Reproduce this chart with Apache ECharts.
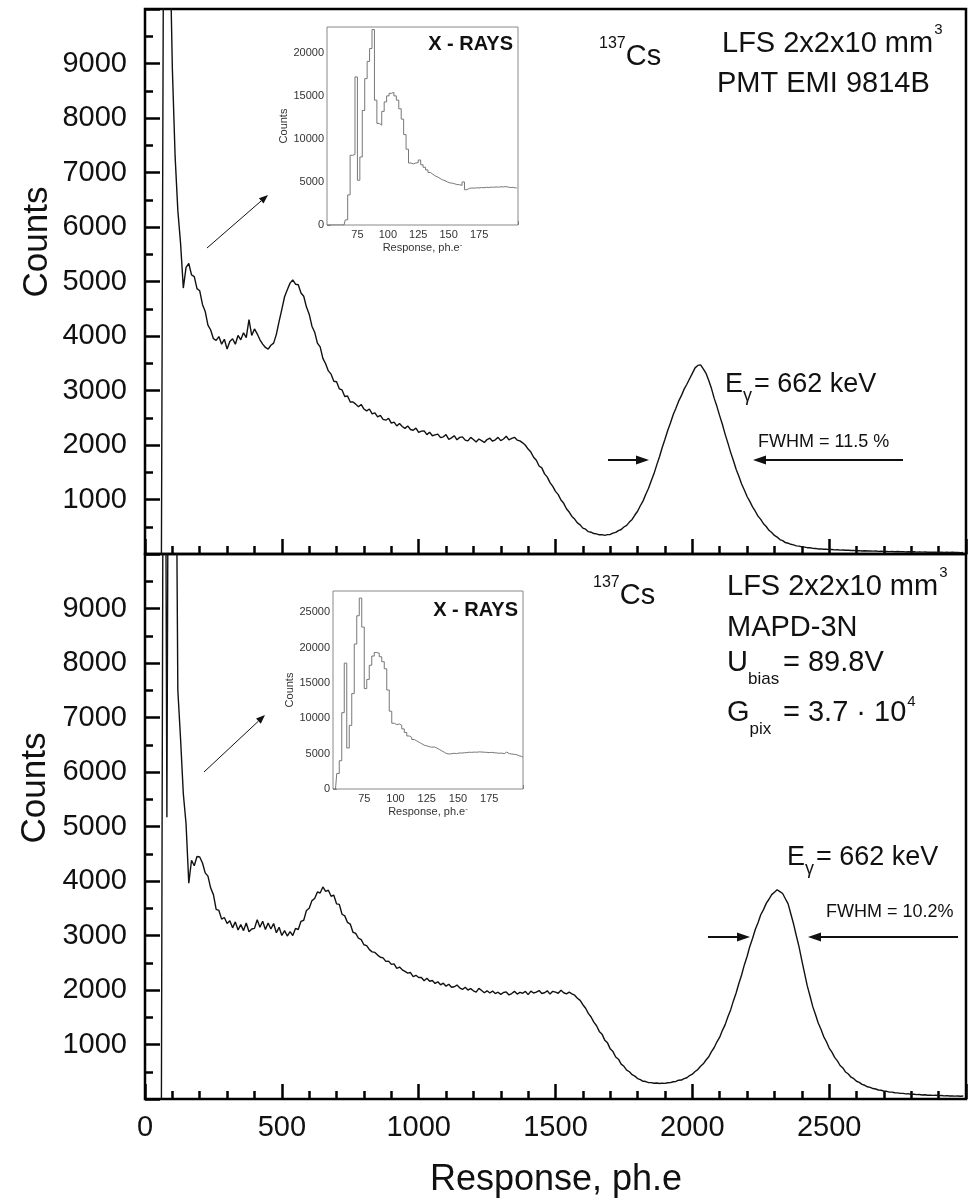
<!DOCTYPE html>
<html>
<head>
<meta charset="utf-8">
<script src="https://cdn.jsdelivr.net/npm/echarts@6/dist/echarts.min.js"></script>
<style>
  html, body { margin: 0; padding: 0; background: #fff; }
  #chart { width: 970px; height: 1204px; }
</style>
</head>
<body>
<div id="chart"></div>
<script>
// main spectra: counts per 10-channel step, starting at channel 60
const chStart = 60;
const chStep = 10;
const topCounts = [
  0, 15000, 16500, 11500, 8900, 7300, 6300, 5700, 4880, 5260,
  5330, 5120, 5090, 4870, 4830, 4580, 4450, 4200, 4110, 3950,
  3920, 3990, 3850, 3940, 3760, 3900, 3950, 3850, 4010, 3930,
  4060, 3970, 4300, 4010, 4130, 4040, 3930, 3850, 3790, 3760,
  3830, 3870, 4030, 4270, 4490, 4720, 4850, 4970, 5030, 4950,
  4940, 4790, 4730, 4530, 4400, 4180, 4070, 3870, 3800, 3590,
  3490, 3360, 3300, 3170, 3160, 3030, 3010, 2890, 2900, 2790,
  2790, 2750, 2700, 2745, 2660, 2625, 2660, 2570, 2590, 2515,
  2545, 2470, 2455, 2490, 2400, 2420, 2350, 2395, 2340, 2305,
  2350, 2285, 2270, 2310, 2230, 2255, 2260, 2190, 2235, 2170,
  2185, 2200, 2135, 2150, 2190, 2105, 2130, 2170, 2095, 2140,
  2150, 2090, 2075, 2140, 2100, 2055, 2110, 2080, 2045, 2100,
  2125, 2070, 2095, 2140, 2080, 2110, 2160, 2095, 2120, 2140,
  2090, 2075, 2040, 1995, 1925, 1870, 1775, 1720, 1615, 1580,
  1470, 1410, 1310, 1240, 1150, 1090, 990, 930, 830, 770,
  690, 640, 570, 535, 475, 455, 410, 400, 375, 370,
  352, 355, 343, 356, 358, 383, 396, 430, 450, 495,
  525, 585, 635, 715, 785, 885, 975, 1095, 1205, 1345,
  1475, 1635, 1785, 1955, 2105, 2265, 2405, 2555, 2675, 2805,
  2905, 3025, 3115, 3215, 3315, 3415, 3460, 3470, 3395, 3315,
  3185, 3035, 2855, 2705, 2535, 2375, 2195, 2035, 1865, 1715,
  1555, 1425, 1285, 1175, 1055, 965, 865, 785, 695, 635,
  555, 505, 435, 395, 340, 310, 265, 245, 210, 198,
  178, 167, 150, 144, 131, 127, 116, 114, 104, 102,
  93, 94, 86, 87, 80, 82, 76, 78, 72, 74,
  68, 70, 64, 66, 60, 62, 56, 59, 54, 57,
  52, 54, 49, 52, 46, 49, 44, 47, 42, 45,
  40, 43, 38, 42, 37, 40, 35, 38, 34, 37,
  33, 35, 31, 34, 30, 33, 29, 32, 28, 31,
  27, 30, 26, 28
];
const botCounts = [
  0, 20000, 5170, 20000, 20000, 15000, 7500, 6600, 5600, 5050,
  3960, 4380, 4280, 4450, 4440, 4330, 4150, 4090, 3870, 3750,
  3480, 3460, 3300, 3330, 3220, 3270, 3140, 3250, 3100, 3200,
  3090, 3230, 3070, 3120, 3130, 3290, 3150, 3260, 3110, 3230,
  3120, 3220, 3050, 3150, 3000, 3090, 2990, 3070, 3000, 3130,
  3110, 3260, 3280, 3460, 3500, 3640, 3680, 3800, 3780, 3890,
  3810, 3830, 3720, 3740, 3580, 3570, 3390, 3360, 3240, 3210,
  3060, 3040, 2950, 2925, 2830, 2815, 2740, 2700, 2690, 2640,
  2600, 2590, 2525, 2530, 2470, 2480, 2395, 2420, 2370, 2340,
  2310, 2320, 2245, 2270, 2230, 2230, 2170, 2215, 2160, 2175,
  2120, 2150, 2095, 2125, 2070, 2105, 2050, 2060, 2090, 2040,
  2010, 2050, 2000, 2025, 1985, 1960, 2030, 1990, 1950, 1985,
  1945, 1980, 1935, 1960, 1920, 1955, 1965, 1910, 1935, 1975,
  1925, 1955, 1940, 1975, 1915, 1980, 1945, 1960, 1990, 1935,
  1950, 1985, 1925, 1975, 1960, 1940, 1995, 1950, 1930, 1960,
  1930, 1905, 1850, 1810, 1730, 1665, 1570, 1505, 1410, 1345,
  1240, 1190, 1080, 1030, 920, 870, 770, 730, 640, 600,
  530, 500, 445, 420, 375, 355, 325, 320, 300, 300,
  288, 294, 285, 292, 287, 298, 300, 316, 322, 345,
  348, 375, 390, 430, 455, 505, 540, 600, 645, 715,
  775, 870, 945, 1050, 1135, 1260, 1365, 1510, 1635, 1800,
  1945, 2120, 2275, 2460, 2615, 2800, 2945, 3110, 3235, 3380,
  3475, 3590, 3665, 3750, 3795, 3840, 3805, 3770, 3675, 3580,
  3395, 3210, 2995, 2790, 2545, 2310, 2075, 1890, 1695, 1550,
  1395, 1280, 1145, 1050, 935, 860, 765, 700, 615, 570,
  495, 458, 400, 372, 326, 305, 268, 252, 224, 214,
  192, 183, 165, 160, 144, 141, 127, 126, 114, 113,
  103, 103, 94, 95, 86, 88, 80, 82, 74, 77,
  70, 72, 66, 68, 62, 64, 58, 61, 55, 58,
  53, 56, 51, 54
];

// X-ray insets: counts per 2-channel bin, starting at channel 50
const inStart = 50;
const inStep = 2;
const insetTopCounts = [
  0, 0, 0, 0, 0, 0, 0, 0, 600, 3500,
  8100, 8200, 17200, 5200, 7900, 13300, 17000, 19000, 20500, 22700,
  14500, 11800, 11600, 13200, 14300, 15000, 15300, 15400, 15000, 14500,
  13500, 12300, 10500, 8800, 7200, 7100, 7200, 7250, 7550, 7000,
  6700, 6400, 6100, 5900, 5700, 5580, 5400, 5250, 5150, 5000,
  4900, 4850, 4780, 4700, 4680, 4600, 5000, 4100, 4250, 4300,
  4280, 4320, 4300, 4350, 4330, 4380, 4350, 4400, 4380, 4420,
  4400, 4440, 4420, 4460, 4400, 4350, 4380, 4300, 4320
];
const insetBotCounts = [
  0, 0, 2200, 4000, 10800, 17800, 5800, 9000, 13500, 20500,
  24500, 27000, 22900, 14200, 15500, 17500, 18800, 19300, 19200, 18700,
  18000, 17000, 14000, 11000, 9300, 9100, 9200, 9000, 8500, 8000,
  7500, 7300, 7000, 6800, 6600, 6400, 6200, 6100, 6000, 5900,
  5950, 5800, 5600, 5400, 5200, 5000, 4950, 5000, 5050, 5000,
  5100, 5080, 5120, 5150, 5200, 5180, 5220, 5200, 5250, 5230,
  5200, 5180, 5150, 5180, 5120, 5100, 5050, 5080, 5000, 5220,
  5000, 4950, 4900, 4850, 4700, 4600, 4500
];

// tick labels that are printed
const mainXLabels = [0, 500, 1000, 1500, 2000, 2500];
const mainYLabels = [1000, 2000, 3000, 4000, 5000, 6000, 7000, 8000, 9000];
const insetXLabels = [75, 100, 125, 150, 175];
const insetTopYLabels = [0, 5000, 10000, 15000, 20000];
const insetBotYLabels = [0, 5000, 10000, 15000, 20000, 25000];

const FONT = 'Liberation Sans, Arial, sans-serif';
const INK = '#111';

const pairs = (arr, start, step) => arr.map((v, i) => [start + i * step, v]);

const measureCtx = document.createElement('canvas').getContext('2d');
function tw(text, size) {
  measureCtx.font = size + 'px ' + FONT;
  return measureCtx.measureText(text).width;
}

function mainX(gi, showLabel) {
  return {
    gridIndex: gi, type: 'value', min: 0, max: 3000, interval: 500,
    axisLine: { show: false },
    axisTick: { inside: true, length: 15, lineStyle: { color: '#000', width: 2.5 } },
    minorTick: { show: true, splitNumber: 5, length: 8, lineStyle: { color: '#000', width: 2.5 } },
    splitLine: { show: false },
    axisLabel: {
      show: showLabel, margin: 14, fontSize: 29, color: INK, fontFamily: FONT,
      formatter: v => mainXLabels.includes(v) ? String(v) : ''
    }
  };
}
function mainY(gi) {
  return {
    gridIndex: gi, type: 'value', min: 0, max: 10000, interval: 1000,
    axisLine: { show: false },
    axisTick: { inside: true, length: 15, lineStyle: { color: '#000', width: 2.5 } },
    minorTick: { show: true, splitNumber: 2, length: 8, lineStyle: { color: '#000', width: 2.5 } },
    splitLine: { show: false },
    axisLabel: {
      margin: 18, fontSize: 29, color: INK, fontFamily: FONT,
      formatter: v => mainYLabels.includes(v) ? String(v) : ''
    }
  };
}
function insetX(gi, max, nameGap) {
  return {
    gridIndex: gi, type: 'value', min: 50, max: max, interval: 25,
    axisLine: { show: false },
    axisTick: { inside: true, length: 4, lineStyle: { color: '#777', width: 1 } },
    minorTick: { show: true, splitNumber: 5, length: 2, lineStyle: { color: '#777', width: 1 } },
    splitLine: { show: false },
    axisLabel: {
      margin: 4, fontSize: 11, color: '#333', fontFamily: FONT,
      formatter: v => insetXLabels.includes(v) ? String(v) : ''
    },
    name: '{a|Response, ph.e}{s|-}', nameLocation: 'middle', nameGap: nameGap,
    nameTextStyle: {
      rich: {
        a: { fontSize: 11, color: '#333', fontFamily: FONT },
        s: { fontSize: 8, color: '#333', fontFamily: FONT, verticalAlign: 'top', padding: [0, 0, 6, 0] }
      }
    }
  };
}
function insetY(gi, max, labels) {
  return {
    gridIndex: gi, type: 'value', min: 0, max: max, interval: 5000,
    axisLine: { show: false },
    axisTick: { inside: true, length: 4, lineStyle: { color: '#777', width: 1 } },
    minorTick: { show: true, splitNumber: 2, length: 2, lineStyle: { color: '#777', width: 1 } },
    splitLine: { show: false },
    axisLabel: {
      margin: 3, fontSize: 11, color: '#333', fontFamily: FONT,
      formatter: v => labels.includes(v) ? String(v) : ''
    },
    name: 'Counts', nameLocation: 'middle', nameGap: 36, nameRotate: 90,
    nameTextStyle: { fontSize: 11, color: '#333', fontFamily: FONT }
  };
}

function txt(x, y, text, size, opts) {
  opts = opts || {};
  const el = {
    type: 'text', x: x, y: y, z: 100,
    style: Object.assign({
      text: text, fontSize: size, fontFamily: FONT, fill: INK,
      align: 'left', verticalAlign: 'middle'
    }, opts.style || {})
  };
  if (opts.rotation) el.rotation = opts.rotation;
  return el;
}
function arrow(x1, y1, x2, y2, lw, head, half) {
  const a = Math.atan2(y2 - y1, x2 - x1);
  const c = Math.cos(a), s = Math.sin(a);
  const bx = x2 - head * c, by = y2 - head * s;
  return [
    { type: 'line', z: 100, shape: { x1: x1, y1: y1, x2: bx, y2: by }, style: { stroke: INK, lineWidth: lw } },
    { type: 'polygon', z: 100, shape: { points: [[x2, y2], [bx + half * s, by - half * c], [bx - half * s, by + half * c]] }, style: { fill: INK } }
  ];
}
// main text followed by a small superscript
function withSup(x, y, text, size, sup, supSize, dy) {
  const w = tw(text, size);
  return [txt(x, y, text, size), txt(x + w + 1, y - dy, sup, supSize)];
}

const NOTE = 29;
const graphics = [
  txt(37, 242, 'Counts', 35, { rotation: Math.PI / 2, style: { align: 'center' } }),
  txt(35, 788, 'Counts', 35, { rotation: Math.PI / 2, style: { align: 'center' } }),
  txt(556, 1180, 'Response, ph.e', 36, { style: { align: 'center' } }),
  txt(513, 44, 'X - RAYS', 20, { style: { align: 'right', fontWeight: 'bold' } }),
  txt(518, 610, 'X - RAYS', 20, { style: { align: 'right', fontWeight: 'bold' } }),
  // top panel notes
  txt(599, 44, '137', 16),
  txt(599 + tw('137', 16), 57, 'Cs', NOTE),
  ...withSup(722, 44, 'LFS 2x2x10 mm', NOTE, '3', 15, 14),
  txt(717, 84, 'PMT EMI 9814B', NOTE),
  txt(725, 385, 'E', 27),
  txt(743, 396, 'γ', 18),
  txt(754, 385, '= 662 keV', 27),
  txt(758, 442, 'FWHM = 11.5 %', 18),
  // bottom panel notes
  txt(593, 583, '137', 16),
  txt(593 + tw('137', 16), 596, 'Cs', NOTE),
  ...withSup(727, 587, 'LFS 2x2x10 mm', NOTE, '3', 15, 14),
  txt(727, 628, 'MAPD-3N', NOTE),
  txt(727, 663, 'U', NOTE),
  txt(727 + tw('U', NOTE), 679, 'bias', 17),
  txt(783, 663, '= 89.8V', NOTE),
  txt(727, 713, 'G', NOTE),
  txt(727 + tw('G', NOTE), 729, 'pix', 17),
  ...withSup(783, 713, '= 3.7 \u00b7 10', NOTE, '4', 15, 11),
  txt(787, 858, 'E', 27),
  txt(805, 869, 'γ', 18),
  txt(816, 858, '= 662 keV', 27),
  txt(826, 912, 'FWHM = 10.2%', 18)
].concat(
  arrow(207, 248, 268, 195, 1, 9, 3.5),
  arrow(204, 772, 265, 715, 1, 9, 3.5),
  arrow(608, 460, 649, 460, 2, 13, 4.5),
  arrow(903, 460, 753, 460, 2, 13, 4.5),
  arrow(708, 937, 750, 937, 2, 13, 4.5),
  arrow(958, 937, 808, 937, 2, 13, 4.5)
);

const chart = echarts.init(document.getElementById('chart'), null, { renderer: 'canvas' });
chart.setOption({
  animation: false,
  backgroundColor: '#fff',
  grid: [
    { left: 145, top: 9, width: 821, height: 545, show: true, borderColor: '#000', borderWidth: 2.5, backgroundColor: 'transparent' },
    { left: 145, top: 554, width: 821, height: 545, show: true, borderColor: '#000', borderWidth: 2.5, backgroundColor: 'transparent' },
    { left: 327, top: 27, width: 191, height: 198, show: true, borderColor: '#888', borderWidth: 1, backgroundColor: '#fff', z: 3 },
    { left: 333, top: 591, width: 190, height: 198, show: true, borderColor: '#888', borderWidth: 1, backgroundColor: '#fff', z: 3 }
  ],
  xAxis: [mainX(0, false), mainX(1, true), insetX(2, 207, 14), insetX(3, 202, 16)],
  yAxis: [mainY(0), mainY(1), insetY(2, 23000, insetTopYLabels), insetY(3, 28000, insetBotYLabels)],
  series: [
    { type: 'line', xAxisIndex: 0, yAxisIndex: 0, data: pairs(topCounts, chStart, chStep), showSymbol: false, clip: true,
      lineStyle: { color: INK, width: 1.4 } },
    { type: 'line', xAxisIndex: 1, yAxisIndex: 1, data: pairs(botCounts, chStart, chStep), showSymbol: false, clip: true,
      lineStyle: { color: INK, width: 1.4 } },
    { type: 'line', xAxisIndex: 2, yAxisIndex: 2, data: pairs(insetTopCounts, inStart, inStep), showSymbol: false, step: 'middle', z: 4,
      lineStyle: { color: '#777', width: 1 } },
    { type: 'line', xAxisIndex: 3, yAxisIndex: 3, data: pairs(insetBotCounts, inStart, inStep), showSymbol: false, step: 'middle', z: 4,
      lineStyle: { color: '#777', width: 1 } }
  ],
  graphic: graphics
});
</script>
</body>
</html>
